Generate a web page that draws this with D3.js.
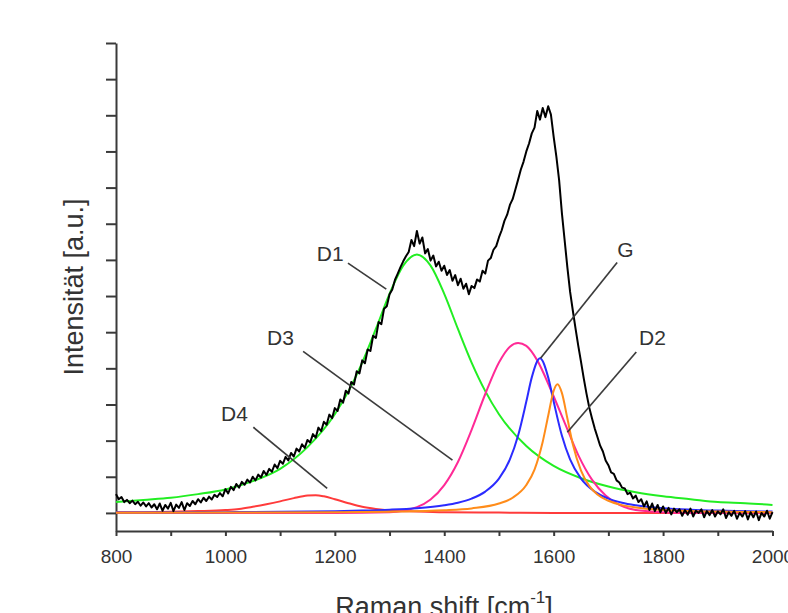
<!DOCTYPE html>
<html lang="de">
<head>
<meta charset="UTF-8">
<title>Raman spectrum fit</title>
<style>
  body { margin: 0; background: #fff; }
  svg text { font-family: 'Liberation Sans', Arial, Helvetica, sans-serif; fill: #333; }
  .axis path, .axis line { stroke: #3a3a3a; stroke-width: 2; }
  .axis text { font-size: 19px; fill: #333; }
  .fit { fill: none; stroke-width: 2; }
  .leader { stroke: #3c3c3c; stroke-width: 1.7; }
  .peak-label { font-size: 21px; }
</style>
</head>
<body>
<div id="chart"></div>
<script src="https://d3js.org/d3.v7.min.js"></script>
<script>
// ticks
var shiftTicks = [800, 900, 1000, 1100, 1200, 1300, 1400, 1500, 1600, 1700, 1800, 1900, 2000];
var shiftLabels = [800, 1000, 1200, 1400, 1600, 1800, 2000];
var intensityTicks = [0, 1, 2, 3, 4, 5, 6, 7, 8, 9, 10, 11, 12, 13];

var spectrum = [
  [800,0.52],[805,0.38],[810,0.44],[815,0.30],[820,0.36],[825,0.27],[830,0.34],[835,0.24],[840,0.31],[845,0.20],
  [850,0.29],[855,0.18],[860,0.27],[865,0.15],[870,0.24],[875,0.10],[880,0.26],[885,0.06],[890,0.22],[895,0.12],
  [900,0.28],[905,0.05],[910,0.23],[915,0.14],[920,0.30],[925,0.08],[930,0.27],[935,0.19],[940,0.33],[945,0.24],
  [950,0.38],[955,0.29],[960,0.42],[965,0.33],[970,0.45],[975,0.37],[980,0.50],[985,0.44],[990,0.55],[995,0.46],
  [1000,0.66],[1005,0.54],[1010,0.72],[1015,0.63],[1020,0.80],[1025,0.70],[1030,0.86],[1035,0.78],[1040,0.92],[1045,0.84],
  [1050,1.00],[1055,0.90],[1060,1.06],[1065,0.98],[1070,1.16],[1075,1.05],[1080,1.22],[1085,1.14],[1090,1.34],[1095,1.24],
  [1100,1.44],[1105,1.36],[1110,1.55],[1115,1.45],[1120,1.66],[1125,1.56],[1130,1.78],[1135,1.70],[1140,1.90],[1145,1.80],
  [1150,2.02],[1155,1.95],[1160,2.18],[1165,2.08],[1170,2.36],[1175,2.26],[1180,2.52],[1185,2.44],[1190,2.72],[1195,2.62],
  [1200,2.90],[1205,2.82],[1210,3.14],[1215,3.05],[1220,3.38],[1225,3.30],[1230,3.62],[1235,3.55],[1240,3.92],[1245,3.86],
  [1250,4.22],[1255,4.14],[1260,4.52],[1265,4.48],[1270,4.90],[1275,4.84],[1280,5.28],[1285,5.22],[1290,5.65],[1295,5.72],
  [1300,6.05],[1305,6.18],[1310,6.45],[1315,6.62],[1320,6.80],[1325,6.96],[1330,7.10],[1335,7.22],[1340,7.55],[1345,7.38],
  [1350,7.80],[1355,7.45],[1360,7.62],[1365,7.18],[1370,7.30],[1375,6.98],[1380,7.12],[1385,6.82],[1390,6.95],[1395,6.70],
  [1400,6.84],[1405,6.58],[1410,6.72],[1415,6.42],[1420,6.58],[1425,6.30],[1430,6.48],[1435,6.20],[1440,6.34],[1445,6.05],
  [1450,6.28],[1455,6.22],[1460,6.46],[1465,6.40],[1470,6.70],[1475,6.62],[1480,6.98],[1485,7.05],[1490,7.28],[1495,7.38],
  [1500,7.62],[1505,7.82],[1510,8.08],[1515,8.25],[1520,8.52],[1525,8.68],[1530,8.95],[1535,9.22],[1540,9.50],[1545,9.72],
  [1550,10.00],[1555,10.22],[1560,10.50],[1565,10.66],[1570,11.12],[1575,10.88],[1580,11.20],[1585,10.95],[1590,11.25],[1595,11.02],
  [1600,10.40],[1605,9.85],[1610,9.20],[1615,8.30],[1620,7.55],[1625,6.80],[1630,6.12],[1635,5.60],[1640,5.10],[1645,4.62],
  [1650,4.18],[1655,3.72],[1660,3.30],[1665,2.92],[1670,2.62],[1675,2.34],[1680,2.10],[1685,1.86],[1690,1.70],[1695,1.45],
  [1700,1.32],[1705,1.12],[1710,1.08],[1715,0.90],[1720,0.84],[1725,0.70],[1730,0.68],[1735,0.52],[1740,0.56],[1745,0.40],
  [1750,0.48],[1755,0.30],[1760,0.38],[1765,0.18],[1770,0.32],[1775,0.08],[1780,0.26],[1785,0.05],[1790,0.22],[1795,0.02],
  [1800,0.18],[1805,0.00],[1810,0.14],[1815,-0.04],[1820,0.12],[1825,0.02],[1830,0.10],[1835,-0.08],[1840,0.08],[1845,-0.05],
  [1850,0.12],[1855,-0.10],[1860,0.06],[1865,0.00],[1870,0.10],[1875,-0.12],[1880,0.05],[1885,-0.06],[1890,0.08],[1895,-0.10],
  [1900,0.04],[1905,-0.04],[1910,0.10],[1915,-0.14],[1920,0.02],[1925,-0.08],[1930,0.06],[1935,-0.16],[1940,0.00],[1945,-0.10],
  [1950,0.05],[1955,-0.18],[1960,0.02],[1965,-0.12],[1970,0.04],[1975,-0.20],[1980,0.00],[1985,-0.10],[1990,0.06],[1995,-0.16],
  [2000,0.02]
];

// fitted bands [shift, intensity]
var bandD1 = [
  [800,0.30],[850,0.36],[900,0.42],[950,0.52],[1000,0.65],[1050,0.88],[1100,1.22],[1150,1.82],[1200,2.73],[1225,3.37],
  [1250,4.16],[1275,5.09],[1300,6.06],[1325,6.84],[1350,7.15],[1375,6.84],[1400,6.06],[1425,5.09],[1450,4.16],[1475,3.37],
  [1500,2.73],[1550,1.85],[1600,1.30],[1650,0.96],[1700,0.73],[1750,0.57],[1800,0.46],[1850,0.38],[1900,0.30],[1950,0.27],[2000,0.22]
];
var bandD3 = [
  [800,0],[1000,0],[1200,0],[1300,0.02],[1350,0.16],[1375,0.37],[1400,0.77],[1425,1.41],[1450,2.30],[1475,3.29],
  [1500,4.16],[1520,4.60],[1535,4.70],[1550,4.62],[1570,4.22],[1595,3.40],[1620,2.50],[1645,1.60],[1670,0.92],[1695,0.48],
  [1720,0.22],[1750,0.08],[1800,0.02],[1850,0],[2000,0]
];
var bandG = [
  [800,0.011],[1000,0.021],[1100,0.030],[1200,0.048],[1250,0.064],[1300,0.089],[1350,0.131],[1400,0.213],[1425,0.284],[1450,0.397],
  [1475,0.59],[1500,0.947],[1520,1.48],[1535,2.14],[1550,3.08],[1560,3.75],[1575,4.28],[1590,3.75],[1600,3.08],[1615,2.14],
  [1630,1.48],[1650,0.947],[1675,0.59],[1700,0.397],[1725,0.284],[1750,0.213],[1800,0.131],[1850,0.089],[1900,0.064],[1950,0.048],[2000,0.038]
];
var bandD2 = [
  [800,0.005],[1000,0.009],[1200,0.019],[1300,0.034],[1400,0.073],[1450,0.125],[1500,0.259],[1525,0.42],[1550,0.772],[1565,1.20],
  [1580,1.97],[1590,2.69],[1600,3.38],[1607,3.56],[1615,3.32],[1625,2.62],[1635,1.90],[1650,1.17],[1665,0.75],[1680,0.51],
  [1700,0.336],[1725,0.216],[1750,0.150],[1800,0.084],[1850,0.053],[1900,0.037],[1950,0.027],[2000,0.021]
];
var bandD4 = [
  [800,0.02],[850,0.02],[900,0.03],[950,0.05],[1000,0.08],[1025,0.11],[1050,0.17],[1075,0.24],[1100,0.32],[1125,0.41],
  [1150,0.48],[1165,0.49],[1180,0.46],[1200,0.38],[1225,0.27],[1250,0.17],[1275,0.11],[1300,0.07],[1350,0.04],[1400,0.02],
  [1500,0.01],[1600,0],[1800,0],[2000,0]
];

// peak labels: text anchor and leader line ends, in data units
var labelNames = ["D1", "D3", "D4", "G", "D2"];
var labelAt = [[1167, 6.96], [1076, 4.64], [992, 2.54], [1716, 7.07], [1756, 4.64]];
var leaderFrom = [[1224, 6.91], [1142, 4.47], [1051, 2.37], [1716, 6.93], [1751, 4.45]];
var leaderTo = [[1294, 6.19], [1415, 1.46], [1186, 0.68], [1576, 4.28], [1625, 2.23]];

var W = 788, H = 613;
var svg = d3.select("#chart").append("svg")
  .attr("width", W).attr("height", H);

var x = d3.scaleLinear().domain([800, 2000]).range([116, 772.5]);
var y = d3.scaleLinear().domain([-0.5, 13]).range([531, 43]);

// axes
svg.append("g")
  .attr("class", "axis")
  .attr("transform", "translate(0,531)")
  .call(d3.axisBottom(x)
    .tickValues(shiftTicks)
    .tickSize(5)
    .tickSizeOuter(0)
    .tickPadding(14)
    .tickFormat(d => shiftLabels.indexOf(d) >= 0 ? d : ""));

svg.append("g")
  .attr("class", "axis")
  .attr("transform", "translate(116,0)")
  .call(d3.axisLeft(y)
    .tickValues(intensityTicks)
    .tickSize(10)
    .tickSizeOuter(0)
    .tickFormat(""));

// fitted bands
var fitLine = d3.line()
  .x(d => x(d[0]))
  .y(d => y(d[1]))
  .curve(d3.curveMonotoneX);

var bands = [
  {data: bandD4, color: "#ff3b3b"},
  {data: bandD1, color: "#22ee22"},
  {data: bandD3, color: "#ff2a96"},
  {data: bandG, color: "#2b2bff"},
  {data: bandD2, color: "#ff8c1a"}
];

svg.selectAll("path.fit")
  .data(bands)
  .join("path")
  .attr("class", "fit")
  .attr("stroke", d => d.color)
  .attr("d", d => fitLine(d.data));

// measured spectrum on top
svg.append("path")
  .datum(spectrum)
  .attr("fill", "none")
  .attr("stroke", "#000")
  .attr("stroke-width", 2)
  .attr("stroke-linejoin", "round")
  .attr("d", d3.line().x(d => x(d[0])).y(d => y(d[1])));

// labels with leader lines
svg.selectAll("line.leader")
  .data(labelNames)
  .join("line")
  .attr("class", "leader")
  .attr("x1", (d, i) => x(leaderFrom[i][0]))
  .attr("y1", (d, i) => y(leaderFrom[i][1]))
  .attr("x2", (d, i) => x(leaderTo[i][0]))
  .attr("y2", (d, i) => y(leaderTo[i][1]));

svg.selectAll("text.peak-label")
  .data(labelNames)
  .join("text")
  .attr("class", "peak-label")
  .attr("x", (d, i) => x(labelAt[i][0]))
  .attr("y", (d, i) => y(labelAt[i][1]))
  .text(d => d);

// axis titles
svg.append("text")
  .attr("transform", "translate(83,287) rotate(-90)")
  .attr("text-anchor", "middle")
  .style("font-size", "27px")
  .text("Intensität [a.u.]");

var xt = svg.append("text")
  .attr("x", 444)
  .attr("y", 616)
  .attr("text-anchor", "middle")
  .style("font-size", "27px");
xt.append("tspan").text("Raman shift [cm");
xt.append("tspan").attr("dy", -13).style("font-size", "17px").text("-1");
xt.append("tspan").attr("dy", 13).text("]");
</script>
</body>
</html>
